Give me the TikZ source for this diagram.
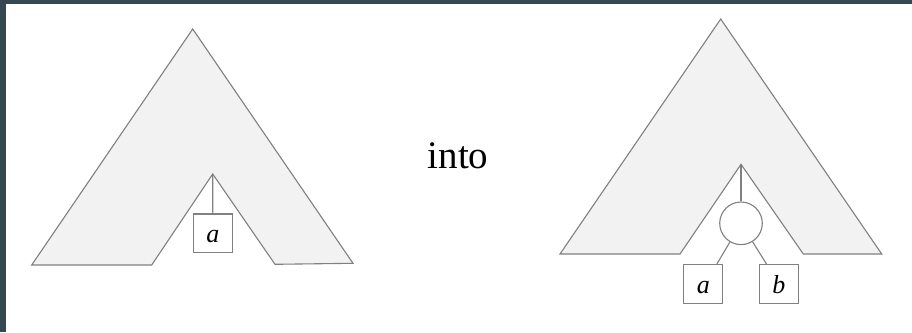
\documentclass[tikz,border=0pt]{standalone}
\usepackage{fontspec}
\setmainfont{Liberation Serif}
\definecolor{frame}{RGB}{53,72,82}
\definecolor{shade}{RGB}{242,242,242}
\definecolor{edge}{RGB}{128,128,128}
\begin{document}
\begin{tikzpicture}[x=1pt,y=-1pt,
  tree/.style={fill=shade,draw=edge,line width=1.1pt,line join=miter},
  leaf/.style={draw=edge,line width=1.1pt,fill=white,minimum width=39pt,minimum height=38.7pt,inner sep=0pt,text height=18.7pt,text depth=0pt,font=\fontsize{26}{26}\selectfont\itshape},
  inner/.style={circle,draw=edge,line width=1.1pt,fill=white,minimum size=42.6pt,inner sep=0pt},
  link/.style={draw=edge,line width=1.1pt}]
\useasboundingbox (0,0) rectangle (912,332);
\fill[frame] (0,0) rectangle (912,332);
\fill[white] (6,3.5) rectangle (912,332);
% left tree
\draw[tree] (192.7,29) -- (353,263.3) -- (275,264.3) -- (212.7,174) -- (151.7,265) -- (31.7,265) -- cycle;
\coordinate (lapex) at (212.7,174);
\node[leaf] (la) at (212.8,233.3) {a};
\draw[link] (lapex) -- (la.north);
% into
\node[anchor=base,font=\fontsize{39}{39}\selectfont,inner sep=0pt] (into) at (458,168) {into};
% right tree
\draw[tree] (720.7,19) -- (881.7,254) -- (803.3,254) -- (741,164.3) -- (680,254) -- (560,254) -- cycle;
\coordinate (rapex) at (741,164.3);
\node[inner] (c) at (741,223.3) {};
\node[leaf] (ra) at (703.3,283.8) {a};
\node[leaf] (rb) at (778.8,283.8) {b};
\coordinate (ta) at (716.7,264.3);
\coordinate (tb) at (766.7,264.3);
\draw[link] (rapex) -- (c);
\draw[link] (c) -- (ta);
\draw[link] (c) -- (tb);
\end{tikzpicture}
\end{document}
